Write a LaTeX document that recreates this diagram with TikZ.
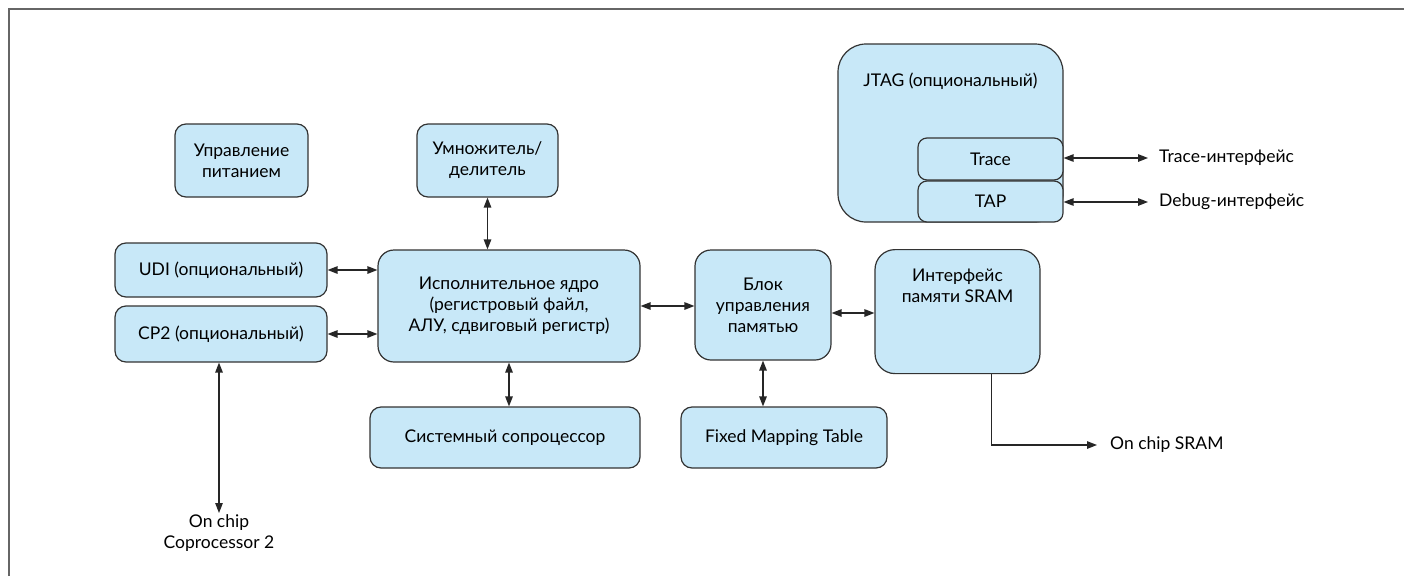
\documentclass[tikz,border=0pt]{standalone}
\usepackage{fontspec}
\setmainfont{Lato}
\usetikzlibrary{arrows.meta}
\definecolor{boxfill}{HTML}{C8E8F8}
\definecolor{boxline}{HTML}{333333}
\definecolor{framec}{HTML}{666666}
\tikzset{
  blk/.style={draw=boxline, fill=boxfill, line width=1.2pt, rounded corners=11pt, align=center, inner sep=2pt, font=\fontsize{17.5}{21}\selectfont},
  lbl/.style={align=center, inner sep=1pt, font=\fontsize{17.5}{21}\selectfont},
  conn/.style={line width=1.3pt, draw=black!85, {Triangle[length=10pt,width=7.5pt]}-{Triangle[length=10pt,width=7.5pt]}},
  oneway/.style={line width=1.3pt, draw=black!85, -{Triangle[length=10pt,width=7.5pt]}}
}
\begin{document}
\begin{tikzpicture}[x=1pt,y=-1pt]
\useasboundingbox (0,0) rectangle (1404,576);
\draw[framec, line width=2pt] (9,576) -- (9,9) -- (1404,9);

\node[blk, minimum width=133pt, minimum height=73pt] (pwr) at (241.5,160.5) {Управление\\питанием};
\node[blk, minimum width=141pt, minimum height=73pt] (mul) at (487.5,160.5) {Умножитель/\\делитель};
\node[blk, minimum width=212pt, minimum height=54pt] (udi) at (221,270) {UDI (опциональный)};
\node[blk, minimum width=212pt, minimum height=56pt] (cp2) at (221,334) {CP2 (опциональный)};
\node[blk, minimum width=262pt, minimum height=112pt, rounded corners=16pt] (exec) at (509,306) {Исполнительное ядро\\(регистровый файл,\\АЛУ, сдвиговый регистр)};
\node[blk, minimum width=270pt, minimum height=61pt] (sys) at (505,437.5) {Системный сопроцессор};
\node[blk, minimum width=136pt, minimum height=110pt, rounded corners=16pt] (mmu) at (763,305) {Блок\\управления\\памятью};
\node[blk, minimum width=206pt, minimum height=61pt] (fmt) at (784,437.5) {Fixed Mapping Table};
\node[blk, minimum width=165pt, minimum height=124pt, rounded corners=20pt, anchor=north] (sram) at (957.5,249) {\\[-6pt]Интерфейс\\памяти SRAM\\[34pt]};
\node[blk, minimum width=225pt, minimum height=178pt, rounded corners=28pt] (jtag) at (950.5,133) {};
\node[lbl] (jtagl) at (950.5,81) {JTAG (опциональный)};
\node[blk, minimum width=145pt, minimum height=42pt, rounded corners=9pt] (trace) at (990.5,159) {Trace};
\node[blk, minimum width=145pt, minimum height=41pt, rounded corners=9pt] (tap) at (990.5,201.5) {TAP};

\node[lbl, anchor=west] (tracel) at (1158,158) {Trace-интерфейс};
\node[lbl, anchor=west] (tapl) at (1158,202) {Debug-интерфейс};
\node[lbl, anchor=west] (sraml) at (1109,445) {On chip SRAM};
\node[lbl, anchor=north] (cop) at (219,513) {On chip\\Coprocessor 2};

\draw[conn] (udi.east) -- (udi.east -| exec.west);
\draw[conn] (cp2.east) -- (cp2.east -| exec.west);
\draw[conn] (mul.south) -- (mul.south |- exec.north);
\draw[conn] (exec.south) -- (exec.south |- sys.north);
\draw[conn] (exec.east) -- (exec.east -| mmu.west);
\draw[conn] ([yshift=-8pt]mmu.east) -- ([yshift=-8pt]mmu.east -| sram.west);
\draw[conn] (mmu.south) -- (mmu.south |- fmt.north);
\draw[conn] (trace.east |- tracel.west) -- ([xshift=-10pt]tracel.west);
\draw[conn] (tap.east |- tapl.west) -- ([xshift=-10pt]tapl.west);
\draw[conn] ([xshift=-2pt]cp2.south) -- ([xshift=-2pt]cp2.south |- cop.north);
\draw[oneway] ([xshift=34pt]sram.south) |- ([xshift=-12pt]sraml.west);
\end{tikzpicture}
\end{document}
